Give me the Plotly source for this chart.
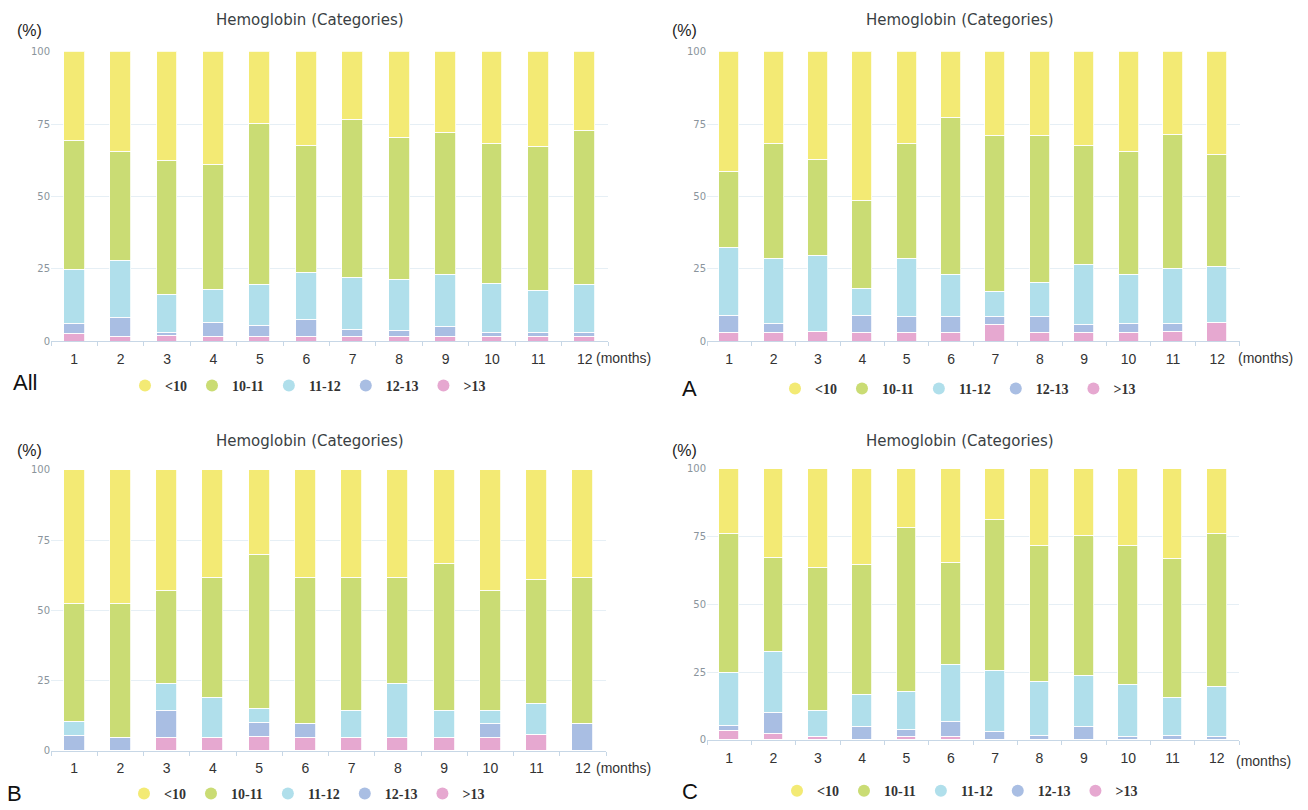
import plotly.graph_objects as go

W, H = 1308, 810

months = [str(m) for m in range(1, 13)]
month_pos = list(range(1, 13))
categories = ["<10", "10-11", "11-12", "12-13", ">13"]
colors = {"<10": "#F3EA74", "10-11": "#CADC74", "11-12": "#B0DFEB",
          "12-13": "#A9BEE3", ">13": "#E6A8D0"}
y_ticks = [0, 25, 50, 75, 100]

# Group "All" (% of patients per hemoglobin category, by month)
all_lt10 = [30.8, 34.6, 37.7, 38.9, 24.9, 32.3, 23.5, 29.7, 27.8, 31.8, 32.9, 27.4]
all_10_11 = [44.5, 37.5, 46.2, 43.3, 55.6, 44.0, 54.5, 48.9, 49.3, 48.4, 49.6, 53.1]
all_11_12 = [18.6, 19.6, 13.2, 11.3, 14.0, 16.2, 18.0, 17.6, 17.9, 16.7, 14.4, 16.4]
all_12_13 = [3.5, 6.6, 0.8, 4.8, 3.8, 5.8, 2.3, 2.1, 3.3, 1.4, 1.4, 1.4]
all_gt13 = [2.6, 1.7, 2.1, 1.7, 1.7, 1.7, 1.7, 1.7, 1.7, 1.7, 1.7, 1.7]

# Group A
a_lt10 = [41.3, 31.8, 37.3, 51.6, 31.8, 22.9, 28.9, 28.9, 32.6, 34.6, 28.7, 35.6]
a_10_11 = [26.2, 39.5, 33.1, 30.1, 39.5, 54.2, 53.9, 51.0, 41.0, 42.5, 46.1, 38.7]
a_11_12 = [23.6, 22.7, 26.2, 9.4, 20.1, 14.3, 8.6, 11.5, 20.7, 16.9, 19.1, 19.2]
a_12_13 = [6.0, 3.1, 0.0, 6.0, 5.7, 5.7, 2.9, 5.7, 2.8, 3.1, 2.9, 0.0]
a_gt13 = [2.9, 2.9, 3.4, 2.9, 2.9, 2.9, 5.7, 2.9, 2.9, 2.9, 3.2, 6.5]

# Group B
b_lt10 = [47.8, 47.8, 43.1, 38.5, 30.2, 38.5, 38.5, 38.5, 33.4, 43.1, 39.2, 38.5]
b_10_11 = [42.1, 47.7, 33.1, 42.7, 54.9, 52.1, 47.4, 37.7, 52.5, 42.8, 44.1, 52.1]
b_11_12 = [5.0, 0.0, 9.7, 14.3, 5.0, 0.0, 9.6, 19.3, 9.6, 4.7, 11.1, 0.0]
b_12_13 = [5.1, 4.5, 9.6, 0.0, 5.0, 4.9, 0.0, 0.0, 0.0, 4.9, 0.0, 9.4]
b_gt13 = [0.0, 0.0, 4.5, 4.5, 4.9, 4.5, 4.5, 4.5, 4.5, 4.5, 5.6, 0.0]

# Group C
c_lt10 = [24.0, 32.7, 36.5, 35.3, 21.8, 34.7, 18.7, 28.6, 24.9, 28.5, 33.1, 24.0]
c_10_11 = [51.4, 34.8, 52.8, 48.3, 60.6, 37.7, 56.0, 49.9, 51.4, 51.1, 51.4, 56.3]
c_11_12 = [19.5, 22.5, 9.8, 11.5, 14.0, 20.9, 22.5, 19.9, 18.8, 19.5, 13.9, 18.8]
c_12_13 = [1.8, 7.9, 0.0, 4.9, 2.6, 5.7, 2.8, 1.6, 4.9, 0.9, 1.6, 0.9]
c_gt13 = [3.3, 2.1, 0.9, 0.0, 1.0, 1.0, 0.0, 0.0, 0.0, 0.0, 0.0, 0.0]

groups = [
    ("All", {"<10": all_lt10, "10-11": all_10_11, "11-12": all_11_12,
             "12-13": all_12_13, ">13": all_gt13}),
    ("A", {"<10": a_lt10, "10-11": a_10_11, "11-12": a_11_12,
           "12-13": a_12_13, ">13": a_gt13}),
    ("B", {"<10": b_lt10, "10-11": b_10_11, "11-12": b_11_12,
           "12-13": b_12_13, ">13": b_gt13}),
    ("C", {"<10": c_lt10, "10-11": c_10_11, "11-12": c_11_12,
           "12-13": c_12_13, ">13": c_gt13}),
]


def px(x):
    return x / W


def py(y):
    # pixel row -> paper fraction (slight vertical calibration for the page)
    yc = (y - 5.8) / 0.984
    return 1 - yc / H


# Plot-area geometry of each panel, in pixels: (left, right, bottom, top)
panels = [
    (51, 608, 345, 52),
    (707, 1239.5, 345, 52),
    (51, 606, 759, 475),
    (707, 1239, 748, 474),
]
# Panel decorations: title centre, (%) label, (months) label, group letter, legend
title_pos = [(310, 20), (960, 20), (310, 446), (960, 446)]
pct_pos = [(29, 31), (684, 31), (29, 455), (684, 455)]
months_pos = [(623, 362), (1265, 362), (623, 777), (1263, 769)]
letter_pos = [(11, 387), (680, 393), (5, 802), (680, 800)]
legend_pos = [(125, 390), (775, 393), (124, 803), (777, 800)]

fig = go.Figure()
layout = {}
legend_names = ["legend", "legend2", "legend3", "legend4"]

for i, (name, data) in enumerate(groups):
    sfx = "" if i == 0 else str(i + 1)
    xa, ya = "x" + sfx, "y" + sfx
    # stacked from the bottom: >13 first, <10 on top
    for cat in reversed(categories):
        fig.add_trace(go.Bar(
            x=month_pos, y=data[cat], name=cat, xaxis=xa, yaxis=ya,
            width=0.45, marker=dict(color=colors[cat], line=dict(color="white", width=0.8)),
            showlegend=False,
        ))
    # circle legend entries
    for cat in categories:
        fig.add_trace(go.Scatter(
            x=[None], y=[None], mode="markers", name=cat, xaxis=xa, yaxis=ya,
            marker=dict(symbol="circle", size=12, color=colors[cat]),
            legend=legend_names[i], showlegend=True,
        ))

    left, right, bottom, top = panels[i]
    layout["xaxis" + sfx] = dict(
        domain=[px(left), px(right)], anchor=ya, range=[0.5, 12.5],
        tickvals=month_pos, ticktext=months, ticks="outside", ticklen=5,
        tickcolor="rgba(0,0,0,0)", showline=True, linecolor="#C7D7E6", linewidth=1,
        showgrid=False, zeroline=False, fixedrange=True,
        tickfont=dict(family="Liberation Sans, Arial", size=14, color="#333333"),
        minor=dict(tickvals=[k + 0.5 for k in range(0, 13)], ticks="outside",
                   ticklen=4, tickcolor="#C7D7E6", showgrid=False),
    )
    layout["yaxis" + sfx] = dict(
        domain=[py(bottom), py(top)], anchor=xa, range=[0, 100],
        tickvals=y_ticks, showgrid=True, gridcolor="#E6EFF5", gridwidth=1,
        zeroline=False, showline=False, ticks="", fixedrange=True,
        tickfont=dict(family="DejaVu Sans", size=10, color="#8A949C"),
    )
    lx, ly = legend_pos[i]
    layout[legend_names[i]] = dict(
        orientation="h", x=px(lx), y=py(ly), xanchor="left", yanchor="middle",
        itemwidth=30,
        font=dict(family="Liberation Serif", size=14, color="#333333", weight="bold"),
        bgcolor="rgba(0,0,0,0)", traceorder="normal",
    )

annotations = []
for i, (name, _) in enumerate(groups):
    tx, ty = title_pos[i]
    annotations.append(dict(x=px(tx), y=py(ty), xref="paper", yref="paper",
                            text="Hemoglobin (Categories)", showarrow=False,
                            xanchor="center", yanchor="middle",
                            font=dict(family="DejaVu Sans", size=15, color="#3A3F44")))
    cx, cy = pct_pos[i]
    annotations.append(dict(x=px(cx), y=py(cy), xref="paper", yref="paper",
                            text="(%)", showarrow=False, xanchor="center", yanchor="middle",
                            font=dict(family="Liberation Sans", size=16, color="#222222")))
    mx, my = months_pos[i]
    annotations.append(dict(x=px(mx), y=py(my), xref="paper", yref="paper",
                            text="(months)", showarrow=False, xanchor="center", yanchor="middle",
                            font=dict(family="Liberation Sans", size=14, color="#333333")))
    gx, gy = letter_pos[i]
    annotations.append(dict(x=px(gx), y=py(gy), xref="paper", yref="paper",
                            text=name, showarrow=False, xanchor="left", yanchor="middle",
                            font=dict(family="Liberation Sans", size=22, color="#111111")))

fig.update_layout(
    **layout,
    annotations=annotations,
    barmode="stack",
    bargap=0,
    width=W, height=H,
    margin=dict(l=0, r=0, t=0, b=0),
    paper_bgcolor="white", plot_bgcolor="white",
    showlegend=True,
)

fig.write_html("out.html")
